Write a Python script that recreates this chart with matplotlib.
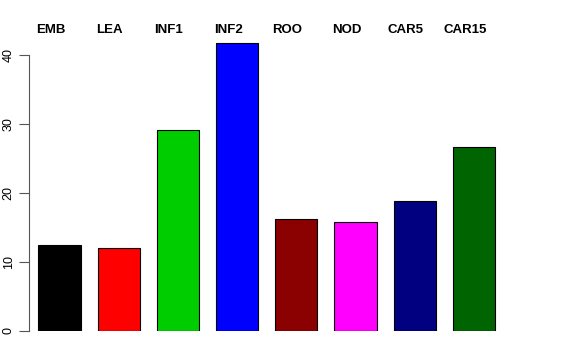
import matplotlib
matplotlib.use("Agg")
import matplotlib.pyplot as plt
import numpy as np

plt.rcParams['font.family'] = ['Liberation Sans', 'DejaVu Sans']

categories = ["EMB", "LEA", "INF1", "INF2", "ROO", "NOD", "CAR5", "CAR15"]
values = [12.5, 12.0, 29.1, 41.7, 16.3, 15.8, 18.8, 26.7]
colors = ["#000000", "#FF0000", "#00CD00", "#0000FF", "#8B0000", "#FF00FF", "#000080", "#006400"]
yticks = [0, 10, 20, 30, 40]

W, H = 576, 360
fig = plt.figure(figsize=(W / 100, H / 100), dpi=100)
left_px, right_px, bottom_px, top_px = 28.5, 547, 331, 40
c0, step = 59.5, 59.19
ax = fig.add_axes([left_px / W, 1 - bottom_px / H, (right_px - left_px) / W, (bottom_px - top_px) / H])

x = np.arange(len(categories))
ax.bar(x, values, width=0.713, color=colors, edgecolor="black", linewidth=0.8)

ax.set_xlim((left_px - c0) / step, (right_px - c0) / step)
ax.set_ylim(0, (bottom_px - top_px) / 6.9)

for s in ["top", "right", "bottom"]:
    ax.spines[s].set_visible(False)
ax.spines["left"].set_bounds(0, 40)
ax.spines["left"].set_color("#555555")
ax.set_xticks([])
ax.set_yticks(yticks)
ax.set_yticklabels([str(t) for t in yticks], rotation=90, va="center", fontsize=9)
ax.tick_params(axis="y", length=7, width=0.8, color="#555555", pad=3)

label_x = x - 9 / step
for lx, lab in zip(label_x, categories):
    ax.text(lx, (bottom_px - 30) / (bottom_px - top_px), lab, transform=ax.get_xaxis_transform(),
            ha="center", va="center", fontsize=9.5, fontweight="bold")

fig.savefig("out.png", dpi=100)
